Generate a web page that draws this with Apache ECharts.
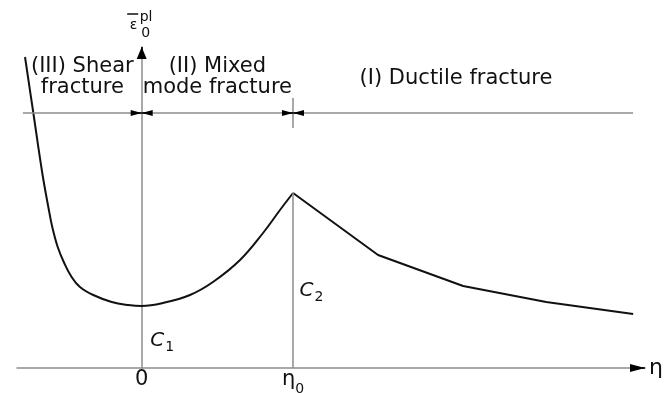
<!DOCTYPE html>
<html>
<head>
<meta charset="utf-8">
<script src="https://cdn.jsdelivr.net/npm/echarts@6/dist/echarts.min.js"></script>
<style>
  html, body { margin: 0; padding: 0; background: #fff; }
  #chart { width: 666px; height: 393px; }
</style>
</head>
<body>
<div id="chart"></div>
<script>
// Fracture locus: equivalent plastic strain at fracture against stress triaxiality η (η0 = 1).
// Shear and mixed-mode branch (smooth), from the far left up to the peak at η0.
const etaShearMixed = [-0.771, -0.716, -0.657, -0.617, -0.591, -0.555, -0.512, -0.463, -0.408, -0.320,
                       -0.198, -0.089, 0, 0.141, 0.319, 0.471, 0.650, 0.802, 0.914, 1.0];
const strainShearMixed = [3.11, 2.55, 1.95, 1.61, 1.41, 1.21, 1.05, 0.91, 0.81, 0.73,
                          0.66, 0.63, 0.62, 0.65, 0.73, 0.86, 1.08, 1.35, 1.58, 1.75];
// Ductile branch (piecewise linear), from the peak at η0 to the right.
const etaDuctile = [1.0, 1.562, 2.124, 2.673, 3.248];
const strainDuctile = [1.75, 1.13, 0.82, 0.66, 0.54];

// x-axis labels
const xTickValues = [0, 1];
const xTickLabels = ['0', '{eta|η}{sub|0}'];

// fracture regimes: boundaries along η and the level of the dimension line
const regionBounds = [-0.785, 0, 1, 3.247];
const regionNames = ['(III) Shear\nfracture', '(II) Mixed\nmode fracture', '(I) Ductile fracture'];
const regionLevel = 2.55;

// axis extents
const etaRange = [-0.824, 3.326];
const strainRange = [0, 3.21];

const GRAY = '#8d8d8d';
const INK = '#111';
const FONT = 'DejaVu Sans';

const pairs = (xs, ys) => xs.map((x, i) => [x, ys[i]]);

// C1: strain at η = 0, C2: strain at η0 (peak)
const c1 = strainShearMixed[etaShearMixed.indexOf(0)];
const c2 = strainDuctile[0];
const cLabelFraction = 0.44;

// a black arrowhead whose tip sits on `tip`, pointing away from `tail`
const arrow = (tail, tip, size) => [
  { coord: tail, symbol: 'none' },
  { coord: tip, symbol: 'triangle', symbolSize: size, symbolOffset: [0, '50%'] },
  { lineStyle: { color: '#000', width: 1.5 }, label: { show: false } }
];
const seg = (a, b, extra) => [
  { coord: a, symbol: 'none' },
  { coord: b, symbol: 'none' },
  Object.assign({ label: { show: false } }, extra || {})
];

const dimArrow = [6, 11];
const dimTail = 0.06;
const [b0, b1, b2, b3] = regionBounds;
const L = regionLevel;

const markLineData = [
  // dimension line for each regime, labelled above its middle
  seg([b0, L], [b1, L], { name: regionNames[0], label: { show: true, distance: 15 } }),
  seg([b1, L], [b2, L], { name: regionNames[1], label: { show: true, distance: 15 } }),
  seg([b2, L], [b3, L], { name: regionNames[2], label: { show: true, distance: 24, offset: [-7, 0] } }),
  // tick across the dimension line at η0
  seg([b2, L - 0.15], [b2, L + 0.15]),
  // vertical at η0 from the axis up to the peak
  seg([xTickValues[1], 0], [xTickValues[1], c2]),
  // arrowheads pointing at the regime boundaries
  arrow([b1 - dimTail, L], [b1, L], dimArrow),
  arrow([b1 + dimTail, L], [b1, L], dimArrow),
  arrow([b2 - dimTail, L], [b2, L], dimArrow),
  arrow([b2 + dimTail, L], [b2, L], dimArrow),
  // axis arrowheads
  arrow([etaRange[1] - 0.08, 0], [etaRange[1], 0], [8, 15]),
  arrow([0, strainRange[1] - 0.1], [0, strainRange[1]], [10, 12])
];

const cRich = {
  c: { fontFamily: FONT, fontSize: 20, fontStyle: 'italic', color: INK, lineHeight: 22, verticalAlign: 'middle' },
  sub: { fontFamily: FONT, fontSize: 14, color: INK, lineHeight: 14, padding: [13, 0, 0, 1], verticalAlign: 'middle' }
};

const chart = echarts.init(document.getElementById('chart'), null, { renderer: 'canvas' });
chart.setOption({
  animation: false,
  backgroundColor: '#fff',
  grid: { left: 17, right: 21, top: 47, bottom: 25, containLabel: false, outerBoundsMode: 'none' },
  xAxis: {
    type: 'value',
    min: etaRange[0],
    max: etaRange[1],
    name: 'η',
    nameLocation: 'end',
    nameGap: 4,
    nameTextStyle: { fontFamily: FONT, fontSize: 22, color: INK, verticalAlign: 'middle' },
    axisLine: { show: true, onZero: true, lineStyle: { color: GRAY, width: 1.5 } },
    axisTick: { show: false },
    splitLine: { show: false },
    axisLabel: {
      show: true,
      customValues: xTickValues,
      margin: 1,
      formatter: (v) => xTickLabels[xTickValues.indexOf(v)] || '',
      fontFamily: FONT,
      fontSize: 21,
      color: INK,
      rich: {
        eta: { fontFamily: FONT, fontSize: 21, color: INK, lineHeight: 22, verticalAlign: 'middle' },
        sub: { fontFamily: FONT, fontSize: 14, color: INK, lineHeight: 14, padding: [18, 0, 0, 0], verticalAlign: 'middle' }
      }
    }
  },
  yAxis: {
    type: 'value',
    min: strainRange[0],
    max: strainRange[1],
    axisLine: { show: true, onZero: true, lineStyle: { color: GRAY, width: 1.5 } },
    axisTick: { show: false },
    axisLabel: { show: false },
    splitLine: { show: false }
  },
  series: [
    {
      type: 'line',
      data: pairs(etaShearMixed, strainShearMixed),
      smooth: 0.4,
      showSymbol: false,
      symbol: 'none',
      lineStyle: { color: INK, width: 2 },
      silent: true,
      markLine: {
        silent: true,
        symbol: ['none', 'none'],
        lineStyle: { color: GRAY, width: 1.5, type: 'solid' },
        label: {
          show: false,
          position: 'insideMiddleTop',
          formatter: '{b}',
          fontFamily: FONT,
          fontSize: 21,
          lineHeight: 21,
          color: INK,
          align: 'center'
        },
        emphasis: { disabled: true },
        data: markLineData
      },
      markPoint: {
        silent: true,
        symbol: 'circle',
        symbolSize: 1,
        itemStyle: { color: 'rgba(0,0,0,0)' },
        label: { show: true, position: 'right', formatter: '{b}', rich: cRich },
        data: [
          { name: '{c|C}{sub|1}', coord: [0, c1 * cLabelFraction], label: { distance: 8 } },
          { name: '{c|C}{sub|2}', coord: [xTickValues[1], c2 * cLabelFraction], label: { distance: 6 } }
        ]
      }
    },
    {
      type: 'line',
      data: pairs(etaDuctile, strainDuctile),
      smooth: false,
      showSymbol: false,
      symbol: 'none',
      lineStyle: { color: INK, width: 2 },
      silent: true
    }
  ]
});

// y-axis title: ε with an overbar, superscript "pl" and subscript "0", set just above the arrow tip
const tip = chart.convertToPixel({ gridIndex: 0 }, [0, strainRange[1]]);
const small = '14px "' + FONT + '"';
chart.setOption({
  graphic: [
    { type: 'line', silent: true,
      shape: { x1: tip[0] - 14.5, y1: tip[1] - 33, x2: tip[0] - 3.5, y2: tip[1] - 33 },
      style: { stroke: INK, lineWidth: 1.5 } },
    { type: 'text', silent: true, x: tip[0] - 12, y: tip[1] - 22,
      style: { text: 'ε', font: small, fill: INK, align: 'left', verticalAlign: 'middle' } },
    { type: 'text', silent: true, x: tip[0] - 2, y: tip[1] - 30,
      style: { text: 'pl', font: small, fill: INK, align: 'left', verticalAlign: 'middle' } },
    { type: 'text', silent: true, x: tip[0] - 0.5, y: tip[1] - 14,
      style: { text: '0', font: small, fill: INK, align: 'left', verticalAlign: 'middle' } }
  ]
});
</script>
</body>
</html>
